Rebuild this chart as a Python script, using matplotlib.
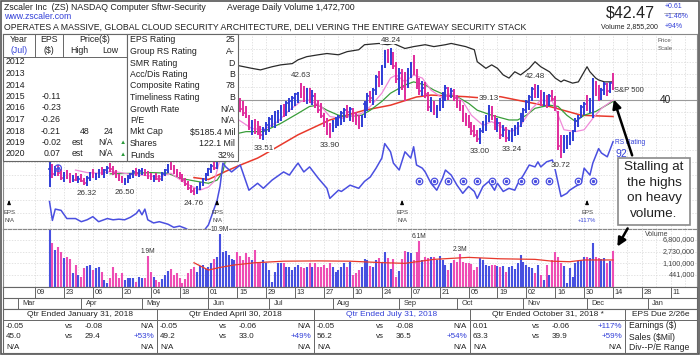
import numpy as np
import pandas as pd
import matplotlib
matplotlib.use("Agg")
import matplotlib.pyplot as plt
from matplotlib.patches import Rectangle

plt.rcParams['font.family'] = ['Liberation Sans', 'DejaVu Sans']

W, H = 700, 355

# ---------------- data ----------------
first_day = '2018-03-16'
last_day = '2018-12-14'

highs = [31.5, 29.8, 29.4, 29.6, 28.9, 28.5, 28.8, 28.3, 28.0, 28.4,
         27.9, 28.2, 27.6, 27.9, 28.5, 28.9, 28.4, 29.0, 29.3, 28.9,
         29.5, 29.9, 29.5, 28.8, 28.2, 27.8, 27.5, 28.0, 28.4, 28.8,
         29.1, 28.9, 29.2, 29.0, 28.6, 28.3, 28.0, 28.3, 28.0, 28.5,
         29.0, 29.8, 30.10, 29.6, 29.0, 28.5, 28.1, 27.6, 27.0, 26.4,
         25.9, 26.2, 26.9, 27.6, 28.4, 29.2, 29.8, 30.1, 30.6, 34.5,
         35.6, 36.8, 38.0, 39.3, 41.0, 40.7, 40.2, 39.7, 38.9, 37.5,
         36.8, 36.9, 36.6, 35.8, 35.6, 36.4, 37.3, 37.6, 38.1, 38.4,
         39.1, 39.3, 39.7, 40.2, 40.5, 41.0, 41.2, 42.63, 42.2, 41.9,
         41.8, 41.5, 41.0, 40.0, 39.5, 37.8, 37.0, 36.2, 36.7, 37.3,
         37.5, 38.1, 38.6, 39.1, 38.8, 38.6, 38.0, 37.5, 37.6, 39.7,
         41.0, 41.4, 41.8, 43.9, 44.6, 45.5, 47.9, 48.0, 48.24, 47.5,
         46.0, 45.0, 44.8, 44.4, 45.0, 46.0, 47.1, 44.8, 43.4, 42.9,
         42.8, 41.2, 40.4, 39.7, 39.1, 40.3, 41.2, 42.3, 42.0, 41.8,
         41.6, 40.7, 40.0, 39.1, 37.8, 37.5, 36.5, 36.0, 35.2, 35.4,
         36.6, 37.5, 39.13, 38.9, 37.5, 37.0, 36.5, 36.0, 35.7, 35.2,
         35.4, 36.0, 36.5, 37.8, 38.6, 40.0, 40.7, 42.0, 42.48, 42.3,
         41.5, 41.2, 40.7, 40.9, 41.5, 40.6, 38.1, 34.4, 34.4, 34.4,
         34.9, 35.2, 37.0, 37.5, 39.1, 39.6, 40.7, 40.2, 43.4, 43.0,
         42.3, 41.8, 42.8, 42.6, 42.8, 44.2]
lows = [26.1, 27.6, 27.8, 27.9, 27.2, 26.9, 27.3, 26.8, 26.9, 27.0,
        26.7, 26.9, 26.5, 26.32, 27.0, 27.5, 27.2, 27.6, 28.0, 27.6,
        28.2, 28.5, 28.0, 27.5, 27.0, 26.7, 26.50, 26.8, 27.3, 27.6,
        27.9, 27.7, 28.0, 27.8, 27.4, 27.2, 26.9, 27.2, 26.9, 27.1,
        27.8, 28.3, 28.8, 28.2, 27.7, 27.3, 26.9, 26.3, 25.7, 25.1,
        24.76, 25.0, 25.6, 26.2, 27.0, 27.8, 28.4, 28.8, 29.0, 31.0,
        33.4, 34.6, 35.8, 37.0, 38.6, 38.3, 38.0, 37.4, 37.0, 35.2,
        34.4, 34.6, 34.4, 33.8, 33.51, 34.3, 34.8, 35.6, 35.4, 36.2,
        36.6, 37.2, 37.4, 38.0, 38.4, 38.9, 39.5, 40.2, 39.6, 39.3,
        39.4, 39.1, 38.6, 37.8, 37.0, 35.6, 34.4, 33.90, 34.9, 35.4,
        35.8, 36.0, 36.5, 37.0, 36.6, 36.5, 36.0, 35.3, 35.6, 37.0,
        38.1, 39.4, 39.1, 40.7, 42.0, 42.3, 45.0, 45.8, 45.5, 44.8,
        42.6, 40.7, 41.5, 39.7, 41.8, 43.4, 43.9, 41.6, 40.7, 40.5,
        40.2, 38.1, 38.0, 37.5, 37.0, 38.2, 38.6, 39.7, 40.0, 40.2,
        39.8, 38.6, 38.2, 36.5, 35.8, 35.4, 34.4, 34.0, 33.3, 33.00,
        34.7, 35.0, 36.4, 36.8, 35.2, 34.9, 33.8, 34.0, 33.3, 33.4,
        33.24, 34.2, 34.4, 35.6, 36.5, 37.8, 38.4, 39.7, 40.3, 40.2,
        39.0, 38.9, 38.6, 39.0, 39.7, 38.1, 32.0, 30.72, 31.5, 32.2,
        32.8, 33.4, 34.9, 35.6, 37.0, 37.6, 38.1, 37.8, 37.0, 40.5,
        39.7, 39.9, 40.7, 40.6, 41.0, 41.5]
closes = [29.0, 28.1, 28.9, 28.3, 27.5, 27.9, 27.6, 27.0, 27.6, 27.2,
          27.4, 27.0, 26.8, 27.5, 28.2, 27.8, 28.1, 28.7, 28.4, 28.8,
          29.2, 29.0, 28.3, 27.8, 27.3, 27.0, 27.2, 27.7, 28.1, 28.5,
          28.3, 28.7, 28.9, 28.2, 27.8, 27.5, 27.7, 27.4, 27.3, 28.2,
          28.8, 29.5, 29.2, 28.6, 28.0, 27.6, 27.2, 26.6, 26.0, 25.5,
          25.4, 25.9, 26.6, 27.3, 28.1, 28.9, 29.5, 29.2, 30.3, 34.0,
          35.2, 36.4, 37.6, 39.0, 40.3, 38.8, 38.5, 37.8, 37.3, 35.6,
          36.2, 35.2, 34.8, 34.3, 35.1, 35.9, 36.9, 37.0, 37.6, 37.9,
          38.6, 38.4, 39.4, 39.8, 40.2, 40.8, 41.0, 40.8, 40.2, 41.3,
          39.9, 40.6, 39.2, 38.3, 37.4, 36.2, 34.8, 34.5, 36.3, 36.9,
          37.2, 37.8, 38.3, 38.0, 38.5, 37.1, 36.8, 35.8, 37.2, 39.3,
          40.6, 40.3, 41.5, 43.5, 43.2, 45.1, 47.4, 46.4, 47.6, 45.3,
          43.2, 44.2, 42.0, 40.5, 44.6, 45.7, 44.3, 42.1, 41.4, 41.9,
          40.8, 38.8, 39.5, 37.9, 38.7, 40.0, 40.8, 41.9, 40.6, 41.3,
          40.2, 39.2, 38.6, 37.0, 36.3, 35.8, 35.0, 34.4, 33.7, 35.0,
          36.2, 37.0, 38.5, 37.3, 35.6, 36.2, 34.3, 35.1, 33.9, 34.6,
          35.0, 35.6, 36.2, 37.4, 38.3, 39.6, 40.4, 41.6, 40.8, 41.8,
          39.5, 39.8, 39.1, 40.5, 40.1, 38.6, 32.6, 31.8, 33.8, 33.9,
          34.6, 34.9, 36.6, 37.1, 38.8, 39.3, 38.5, 38.6, 42.9, 42.6,
          40.3, 41.5, 42.4, 41.3, 42.6, 42.47]
volume_m = [15.0, 5.2, 3.0, 4.0, 2.75, 1.62, 1.75, 1.5, 0.5, 0.97,
            0.44, 0.39, 0.74, 0.90, 0.97, 0.65, 0.74, 0.85, 0.57, 0.30,
            0.23, 0.34, 0.8, 0.5, 0.34, 0.5, 0.3, 0.36, 0.36, 0.34,
            0.26, 0.39, 0.34, 0.36, 1.9, 0.57, 0.39, 0.30, 0.25, 0.32,
            0.44, 0.62, 0.68, 0.44, 0.50, 0.34, 0.23, 0.32, 0.5, 0.68,
            0.8, 0.55, 0.9, 0.95, 0.72, 0.8, 1.1, 1.6, 1.75, 10.9,
            2.6, 2.9, 2.1, 1.6, 1.4, 2.7, 2.0, 1.4, 2.4, 1.8,
            1.43, 3.1, 1.1, 1.25, 1.43, 1.1, 0.65, 0.26, 0.57, 1.15,
            1.1, 1.1, 0.85, 0.8, 0.65, 0.8, 0.97, 0.85, 0.74, 0.8,
            1.1, 0.8, 1.1, 0.85, 0.8, 0.97, 0.74, 1.1, 0.8, 0.57,
            0.65, 0.8, 1.1, 0.8, 1.25, 0.44, 0.50, 0.65, 0.80, 1.5,
            1.43, 0.9, 0.8, 1.43, 1.62, 1.25, 2.75, 1.62, 0.68, 1.5,
            0.39, 0.62, 1.5, 2.9, 2.75, 2.4, 1.43, 2.75, 6.1, 1.43,
            1.85, 1.62, 1.75, 1.85, 1.43, 2.0, 1.43, 0.97, 0.65, 1.15,
            1.43, 1.25, 2.3, 1.25, 1.15, 1.1, 1.05, 0.65, 0.8, 1.62,
            1.43, 0.97, 0.9, 0.97, 0.97, 0.9, 0.85, 0.9, 0.57, 0.8,
            0.9, 0.68, 1.1, 2.1, 1.25, 0.97, 0.85, 0.74, 0.52, 0.97,
            0.44, 0.30, 0.97, 0.44, 1.43, 2.75, 1.85, 1.15, 0.9, 0.23,
            0.74, 0.39, 1.1, 1.35, 1.43, 1.75, 1.75, 1.62, 5.2, 1.85,
            1.62, 1.5, 1.62, 1.15, 1.3, 2.86]

# moving averages and relative lines, as (bar index, value)
ma50_idx = [50, 55, 61, 65, 72, 74, 86, 97, 109, 118, 127, 132, 144, 148, 156, 163, 173, 184, 195]
ma50_val = [27.6, 27.3, 28.6, 29.4, 30.7, 31.2, 34.4, 36.75, 38.3, 39.1, 40.4, 40.7, 40.45, 40.3,
            40.45, 39.8, 38.9, 37.5, 37.3]
ma21_idx = [21, 30, 35, 41, 45, 51, 55, 58, 60, 63, 68, 74, 80, 86, 90, 93, 96, 100, 103, 108,
            111, 115, 118, 123, 126, 130, 133, 137, 141, 145, 148, 153, 159, 162, 165, 168, 173,
            176, 179, 182, 185, 189, 192, 195]
ma21_val = [28.2, 28.3, 28.4, 28.3, 27.5, 27.0, 26.7, 27.2, 28.6, 34.4, 34.9, 34.9, 36.2, 37.8,
            38.9, 39.1, 38.3, 37.5, 37.3, 37.5, 38.3, 39.7, 41.0, 42.3, 42.8, 42.3, 41.5, 40.7,
            40.45, 39.4, 38.3, 37.5, 36.75, 36.75, 37.5, 38.6, 39.1, 38.9, 37.5, 36.5, 37.5,
            38.1, 38.9, 39.7]
ma10_idx = [9, 13, 17, 22, 27, 32, 38, 42, 47, 52, 55, 57, 63, 70, 74, 79, 83, 87, 90, 94, 97,
            101, 104, 108, 111, 115, 118, 120, 123, 126, 129, 132, 136, 139, 143, 146, 150, 153,
            156, 160, 163, 167, 170, 174, 176, 178, 182, 185, 188, 191, 195]
ma10_val = [28.8, 28.4, 28.3, 28.6, 28.2, 28.0, 27.7, 28.3, 26.7, 25.6, 26.1, 27.0, 37.5, 35.4,
            35.2, 36.5, 38.3, 39.7, 39.9, 38.9, 37.3, 37.0, 37.3, 37.8, 38.9, 41.0, 43.4, 43.9,
            42.8, 43.9, 43.4, 41.5, 40.2, 41.0, 39.7, 37.5, 35.9, 36.5, 35.7, 34.9, 35.9, 38.6,
            39.9, 39.7, 37.5, 35.2, 34.9, 35.2, 37.0, 38.6, 39.9]
rs_idx = [0, 1, 2, 4, 6, 9, 11, 13, 15, 17, 20, 22, 24, 26, 28, 30, 31, 32, 33, 34, 36, 38, 41,
          43, 45, 47, 50, 53, 55, 58, 59, 60, 61, 63, 66, 69, 72, 74, 77, 81, 83, 85, 86, 88, 90,
          93, 96, 97, 100, 101, 104, 107, 109, 111, 113, 115, 116, 118, 119, 121, 123, 125, 126,
          127, 129, 130, 132, 134, 136, 137, 139, 141, 143, 145, 147, 148, 150, 152, 154, 155,
          157, 159, 161, 162, 164, 166, 168, 169, 170, 172, 174, 175, 177, 179, 180, 182, 184,
          185, 187, 188, 190, 191, 193, 195]
rs_val = [23.8, 20.8, 22.6, 22.4, 21.1, 21.1, 20.6, 20.9, 21.4, 20.6, 21.1, 20.9, 21.0, 20.9,
          21.3, 21.9, 22.5, 21.7, 22.6, 20.9, 20.4, 20.6, 20.2, 19.7, 19.9, 19.55, 18.8, 18.9,
          20.1, 24.0, 26.2, 29.9, 29.3, 28.5, 29.6, 25.6, 26.7, 25.9, 27.2, 28.5, 28.0, 29.3,
          29.9, 28.5, 29.3, 27.5, 25.9, 24.3, 25.6, 25.4, 26.4, 25.9, 27.0, 27.7, 29.1, 30.7,
          33.0, 31.7, 29.9, 28.8, 31.7, 30.7, 32.5, 29.6, 29.1, 28.5, 26.7, 25.6, 27.5, 28.8,
          28.0, 26.4, 25.1, 26.2, 25.4, 24.3, 26.2, 27.0, 25.6, 26.7, 25.4, 25.9, 25.6, 26.6,
          28.0, 29.6, 29.3, 30.1, 29.3, 30.1, 30.4, 28.8, 24.6, 25.1, 25.6, 26.2, 26.7, 29.1,
          28.0, 29.9, 32.2, 31.5, 30.9, 33.3]
spx_idx = [63, 70, 73, 77, 80, 84, 86, 89, 93, 96, 100, 103, 107, 109, 114, 117, 119, 123, 126,
           130, 133, 137, 139, 144, 147, 148, 151, 153, 155, 157, 159, 161, 163, 166, 168, 170,
           173, 175, 177, 178, 181, 183, 185, 186, 187, 189, 190, 192, 195]
spx_val = [45.6, 44.95, 44.7, 45.2, 45.5, 45.7, 46.3, 46.8, 47.1, 47.3, 47.1, 47.6, 47.9, 48.7,
           48.9, 48.7, 48.9, 48.1, 48.4, 48.7, 48.4, 48.7, 48.9, 48.4, 47.9, 46.0, 44.95, 45.5,
           44.95, 43.9, 43.4, 44.4, 43.9, 44.95, 46.0, 45.2, 44.4, 43.4, 42.8, 43.1, 42.6, 42.8,
           44.4, 45.2, 44.4, 43.4, 43.1, 42.8, 42.8]
vol_avg_idx = [50, 55, 59, 64, 71, 81, 93, 104, 116, 123, 133, 145, 156, 168, 174, 180, 185, 195]
vol_avg_val = [1.15, 0.65, 0.8, 0.97, 1.15, 1.3, 1.33, 1.3, 1.15, 1.1, 1.5, 1.75, 1.57, 1.5,
               1.3, 1.25, 1.43, 1.43]

# weekly markers under the price bars, the IPO marker, earnings arrows
marker_idx = [128, 133, 138, 143, 148, 153, 158, 163, 168, 173, 183, 188]
marker_level = 27.0
ipo_idx, ipo_level = 3, 29.1
eps_idx = [-14, 58, 122, 186]
eps_text = ['N/A', 'N/A', 'N/A', '+117%']

high_labels = {42: '30.10', 87: '42.63', 118: '48.24', 152: '39.13', 168: '42.48'}
low_labels = {13: '26.32', 26: '26.50', 50: '24.76', 74: '33.51', 97: '33.90', 149: '33.00',
              160: '33.24', 177: '30.72'}
vol_labels = {34: '1.9M', 59: '10.9M', 128: '6.1M', 142: '2.3M'}
vol_scale = [6.8, 2.73, 1.1, 0.441]
vol_scale_text = ['6,800,000', '2,730,000', '1,100,000', '441,000']

years = ['2012', '2013', '2014', '2015', '2016', '2017', '2018', '2019', '2020']
eps_year = ['', '', '', '-0.11', '-0.23', '-0.26', '-0.21', '-0.02', '0.07']
price_high = ['', '', '', '', '', '', '48', 'N/A', 'N/A']
price_low = ['', '', '', '', '', '', '24', '', '']
rating_names = ['EPS Rating', 'Group RS Rating', 'SMR Rating', 'Acc/Dis Rating', 'Composite Rating',
                'Timeliness Rating', 'Growth Rate', 'P/E', 'Mkt Cap', 'Shares', 'Funds']
rating_values = ['25', 'A-', 'D', 'B', '78', 'B', 'N/A', 'N/A', '$5185.4 Mil', '122.1 Mil', '32%']

qtr_titles = ['Qtr Ended January 31, 2018', 'Qtr Ended April 30, 2018',
              'Qtr Ended July 31, 2018', 'Qtr Ended October 31, 2018 *']
qtr_eps = [('-0.05', '-0.08', 'N/A'), ('-0.05', '-0.06', 'N/A'), ('-0.05', '-0.08', 'N/A'),
           ('0.01', '-0.06', '+117%')]
qtr_sales = [('45.0', '29.4', '+53%'), ('49.2', '33.0', '+49%'), ('56.2', '36.5', '+54%'),
             ('63.3', '39.9', '+59%')]

# ---------------- drawing ----------------
BLUE = '#2f3dd6'
PINK = '#e02c9c'
TXT = '#222222'
LBLUE = '#3340d8'

fig = plt.figure(figsize=(7, 3.55), dpi=100)


def rect(x0, y0, x1, y1):
    return [x0 / W, 1 - y1 / H, (x1 - x0) / W, (y1 - y0) / H]


n = len(closes)
xi = np.arange(n)
prev = np.r_[closes[0] - 1, closes[:-1]]
up = np.array(closes) >= prev
colors = np.where(up, BLUE, PINK)

xlim = ((3 - 49.5) / 2.89, (697 - 49.5) / 2.89)
fridays = pd.date_range('2018-03-09', '2019-01-25', freq='7D')
fri_idx = [np.busday_count(np.datetime64(first_day), np.datetime64(d.date())) for d in fridays]

# price panel
ax = fig.add_axes(rect(3, 34, 697, 229))
ax.set_xlim(*xlim)
ax.set_ylim(19.44, 50.4)
for s in ax.spines.values():
    s.set_color('#888888')
    s.set_linewidth(0.8)
ax.set_xticks([])
ax.set_yticks([])
for f in fri_idx:
    ax.axvline(f, color='#d8d8d8', lw=0.5, ls=(0, (2, 2)), zorder=0)
for lvl in np.arange(22, 50, 2):
    ax.axhline(lvl, color='#d8d8d8', lw=0.5, ls=(0, (2, 2)), zorder=0)
ax.axhline(40, color='#9a9a9a', lw=0.8, zorder=0.5)

ax.plot(ma50_idx, ma50_val, color='#e8392c', lw=1.1, zorder=2)
ax.plot(ma21_idx, ma21_val, color='#3a9e3a', lw=0.9, zorder=2)
ax.plot(ma10_idx, ma10_val, color='#f08ad8', lw=0.9, zorder=2)
ax.plot(spx_idx, spx_val, color='#2a2a2a', lw=0.9, zorder=2)
ax.plot(rs_idx, rs_val, color='#4a4fe0', lw=1.1, zorder=2)

ax.vlines(xi, lows, highs, colors=colors, lw=1.4, zorder=3)
ax.hlines(closes, xi - 0.35, xi + 0.5, colors=colors, lw=1.1, zorder=3)

ax.scatter(marker_idx, [marker_level] * len(marker_idx), s=22, facecolors='white',
           edgecolors='#4a4fe0', linewidths=0.9, zorder=4)
ax.scatter(marker_idx, [marker_level] * len(marker_idx), s=2, color='#4a4fe0', zorder=5)
ax.scatter([ipo_idx], [ipo_level], s=22, facecolors='none', edgecolors='#4a4fe0',
           linewidths=0.9, zorder=4)
ax.scatter([ipo_idx], [ipo_level], s=2, color='#4a4fe0', zorder=5)

for i, t in high_labels.items():
    ax.annotate(t, (i, highs[i]), xytext=(0, 5), textcoords='offset points', ha='center',
                va='center', fontsize=5.8, color='#333333', zorder=6,
                bbox=dict(fc='white', ec='none', pad=0.2))
for i, t in low_labels.items():
    ax.annotate(t, (i, lows[i]), xytext=(0, -5.5), textcoords='offset points', ha='center',
                va='center', fontsize=5.8, color='#333333', zorder=6,
                bbox=dict(fc='white', ec='none', pad=0.2))

for i, t in zip(eps_idx, eps_text):
    ax.annotate('', xy=(i, 24.5), xytext=(i, 23.0),
                arrowprops=dict(arrowstyle='-|>,head_width=0.1,head_length=0.25', color='black', lw=0.7))
    ax.text(i, 22.05, 'EPS', ha='center', va='center', fontsize=4.3, color='#444444')
    ax.text(i, 20.8, t, ha='center', va='center', fontsize=4.3,
            color=LBLUE if t.startswith('+') else '#444444')

ty = ax.get_yaxis_transform()
ax.text(0.9466, 40, '40', transform=ty, fontsize=7.3, va='center', ha='left', color=TXT)

# volume panel
axv = fig.add_axes(rect(3, 229, 697, 287))
axv.set_xlim(*xlim)
axv.set_yscale('log')
vmin, vmax = 0.173, 16.1
axv.set_ylim(vmin, vmax)
axv.set_xticks([])
axv.set_yticks([])
axv.minorticks_off()
for s in axv.spines.values():
    s.set_color('#888888')
    s.set_linewidth(0.8)
axv.spines['top'].set_linestyle((0, (3, 1.5)))
for f in fri_idx:
    axv.axvline(f, color='#d8d8d8', lw=0.5, ls=(0, (2, 2)), zorder=0)
for v in vol_scale:
    axv.axhline(v, color='#d8d8d8', lw=0.5, ls=(0, (2, 2)), zorder=0)
vcol = np.where(up, '#4650e0', '#ee4db4')
axv.vlines(xi, vmin, volume_m, colors=vcol, lw=1.5, zorder=2)
axv.plot(vol_avg_idx, vol_avg_val, color='#e8392c', lw=0.9, zorder=3)
for i, t in vol_labels.items():
    axv.annotate(t, (i, volume_m[i]), xytext=(0, 3.5), textcoords='offset points', ha='center',
                 va='center', fontsize=4.8, color='#333333', zorder=6,
                 bbox=dict(fc='white', ec='none', pad=0.1), annotation_clip=False)
tv = axv.get_yaxis_transform()
for v, t in zip(vol_scale, vol_scale_text):
    axv.text(0.997, v, t, transform=tv, ha='right', va='center', fontsize=5.2, color='#444444')
axv.text(0.925, 0.9, 'Volume', transform=axv.transAxes, ha='left', va='center', fontsize=5,
         color='#444444')

# date rows
axd = fig.add_axes(rect(3, 287, 697, 309))
axd.set_xlim(*xlim)
axd.set_ylim(2, 0)
axd.set_xticks([])
axd.set_yticks([])
for s in axd.spines.values():
    s.set_color('#666666')
    s.set_linewidth(0.8)
axd.axhline(1, color='#666666', lw=0.8)
ticks = pd.date_range('2018-03-09', periods=23, freq='14D')
for d in ticks:
    k = np.busday_count(np.datetime64(first_day), np.datetime64(d.date()))
    axd.plot([k, k], [0, 1], color='#666666', lw=0.7)
    axd.text(k + 0.6, 0.5, d.strftime('%d'), ha='left', va='center', fontsize=5.3, color='#333333')
months = pd.date_range('2018-03-01', '2019-01-31', freq='BMS')
for d in months:
    k = np.busday_count(np.datetime64(first_day), np.datetime64(d.date()))
    axd.plot([k, k], [1, 2], color='#666666', lw=0.7)
    axd.text(k + 1.5, 1.5, d.strftime('%b'), ha='left', va='center', fontsize=5.3, color='#333333')

# overlay in pixel coordinates: header, tables, call-out
ov = fig.add_axes([0, 0, 1, 1], facecolor='none')
ov.set_xlim(0, W)
ov.set_ylim(H, 0)
ov.axis('off')


def t(x, y, s, **kw):
    kw.setdefault('fontsize', 6.3)
    kw.setdefault('color', TXT)
    kw.setdefault('va', 'center')
    ov.text(x, y, s, **kw)


ov.add_patch(Rectangle((1, 1), W - 2, H - 2, fill=False, ec='#555555', lw=1.2))
t(4, 7, 'Zscaler Inc  (ZS) NASDAQ Computer Sftwr-Security')
t(227, 7, 'Average Daily Volume 1,472,700')
t(4, 16.5, 'www.zscaler.com', color=LBLUE)
t(4, 27, 'OPERATES A MASSIVE, GLOBAL CLOUD SECURITY ARCHITECTURE, DELI VERING THE ENTIRE GATEWAY SECURITY STACK',
  fontsize=6.3)
t(655, 13, '$42.47', ha='right', fontsize=11.5)
t(658, 27, 'Volume 2,855,200', ha='right', fontsize=5)
t(665, 7, '+0.61', fontsize=5, color=LBLUE)
ov.plot([664, 684], [12.5, 12.5], color='#999999', lw=0.5)
t(665, 17, '+1.46%', fontsize=5, color=LBLUE)
t(665, 27, '+94%', fontsize=5, color=LBLUE)

# year / eps table
ov.add_patch(Rectangle((3, 34), 124, 127, fc='white', ec='#666666', lw=0.8, zorder=3))
ov.add_patch(Rectangle((127, 34), 111, 127, fc='white', ec='#666666', lw=0.8, zorder=3))
ov.plot([3, 127], [57, 57], color='#666666', lw=0.7, zorder=4)
ov.plot([35, 35], [34, 57], color='#666666', lw=0.7, zorder=4)
ov.plot([63, 63], [34, 57], color='#666666', lw=0.7, zorder=4)
t(19, 39.5, 'Year', ha='center', zorder=5)
t(19, 50.5, '(Jul)', ha='center', color=LBLUE, zorder=5)
t(49, 39.5, 'EPS', ha='center', zorder=5)
t(49, 50.5, '($)', ha='center', zorder=5)
t(95, 39.5, 'Price($)', ha='center', zorder=5)
t(79, 50.5, 'High', ha='center', zorder=5)
t(110, 50.5, 'Low', ha='center', zorder=5)
for k, (yr, e, hi, lo) in enumerate(zip(years, eps_year, price_high, price_low)):
    yy = 62 + k * 11.5
    t(6, yy, yr, zorder=5)
    t(61, yy, e, ha='right', zorder=5)
    if yr in ('2019', '2020'):
        t(72, yy, 'est', zorder=5)
        t(113, yy, hi, ha='right', zorder=5)
        t(123, yy, '\u25b2', ha='center', fontsize=4.5, color='#2a9a3a', zorder=5)
    else:
        t(90, yy, hi, ha='right', zorder=5)
        t(113, yy, lo, ha='right', zorder=5)
for k, (nm, v) in enumerate(zip(rating_names, rating_values)):
    yy = 40 + k * 11.5
    t(130, yy, nm, zorder=5)
    t(235, yy, v, ha='right', zorder=5)

# right-hand labels
t(658, 40, 'Price', fontsize=4.3, color='#555555')
t(658, 48, 'Scale', fontsize=4.3, color='#555555')
t(614, 90, 'S&P 500', fontsize=5.5, color='#333333')
t(615, 142, 'RS Rating', fontsize=4.8, color=LBLUE)
t(616, 154, '92', fontsize=7.5, color=LBLUE)

ov.add_patch(Rectangle((618, 158), 72, 67, fc='white', ec='#8a8a8a', lw=1.2, zorder=6))
for k, line in enumerate(['Stalling at', 'the highs', 'on heavy', 'volume.']):
    t(654, 167 + k * 15.7, line, ha='center', fontsize=9.7, zorder=7)
ov.annotate('', xy=(613, 97), xytext=(633, 158),
            arrowprops=dict(arrowstyle='-|>,head_width=0.25,head_length=0.5', color='black', lw=1.8),
            zorder=7)
ov.annotate('', xy=(616, 249), xytext=(629, 226),
            arrowprops=dict(arrowstyle='-|>,head_width=0.25,head_length=0.5', color='black', lw=1.8),
            zorder=7)

# bottom quarterly table
ov.add_patch(Rectangle((3, 309), 694, 44, fc='white', ec='#666666', lw=0.8))
ov.plot([3, 697], [320, 320], color='#666666', lw=0.7)
col_edges = [3, 157, 314, 470, 625, 697]
for ce in col_edges[1:-1]:
    ov.plot([ce, ce], [309, 353], color='#666666', lw=0.7)
row_y = [326, 337, 347.5]
for k, title in enumerate(qtr_titles):
    x0, x1 = col_edges[k], col_edges[k + 1]
    t((x0 + x1) / 2, 314.5, title, ha='center', fontsize=6,
      color=LBLUE if k == 2 else TXT)
    for yy, (a, b, c) in zip(row_y, [qtr_eps[k], qtr_sales[k]]):
        t(x0 + 3, yy, a, fontsize=5.8)
        t(x0 + 62, yy, 'vs', fontsize=5.8)
        t(x0 + 82, yy, b, fontsize=5.8)
        t(x1 - 3, yy, c, ha='right', fontsize=5.8, color=LBLUE if c.startswith('+') else TXT)
    t(x0 + 3, row_y[2], 'N/A', fontsize=5.8)
    t(x1 - 3, row_y[2], 'N/A', ha='right', fontsize=5.8)
t(661, 314.5, 'EPS Due 2/26e', ha='center', fontsize=6)
for yy, lab in zip(row_y, ['Earnings ($)', 'Sales ($Mil)', 'Div--P/E Range']):
    t(629, yy, lab, fontsize=6.2)

fig.savefig('out.png', dpi=100)
